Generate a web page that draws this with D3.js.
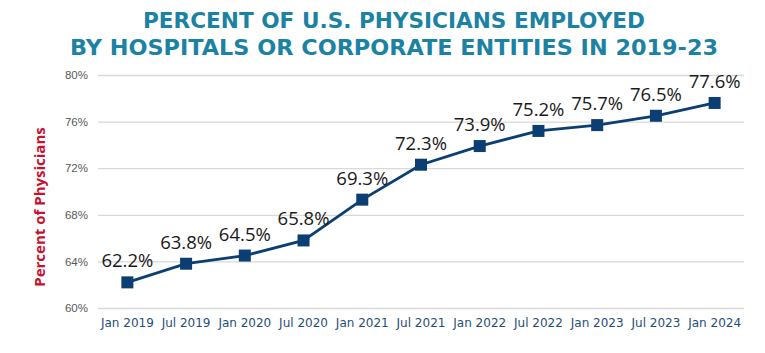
<!DOCTYPE html>
<html><head><meta charset="utf-8">
<script src="https://cdn.jsdelivr.net/npm/d3@7"></script>
<style>body{margin:0;background:#fff}svg{display:block}</style>
</head><body>
<svg id="c" width="765" height="353"></svg>
<script>
const categories = ["Jan 2019","Jul 2019","Jan 2020","Jul 2020","Jan 2021","Jul 2021","Jan 2022","Jul 2022","Jan 2023","Jul 2023","Jan 2024"];
const values = [62.2,63.8,64.5,65.8,69.3,72.3,73.9,75.2,75.7,76.5,77.6];
const yTicks = [60,64,68,72,76,80];
const titleLines = ["PERCENT OF U.S. PHYSICIANS EMPLOYED","BY HOSPITALS OR CORPORATE ENTITIES IN 2019-23"];
const yTitle = "Percent of Physicians";

const svg = d3.select("#c");
const m = {l:98, r:21, t:75, b:45};
const W = 765, H = 353;
const x = d3.scaleBand().domain(categories).range([m.l, W-m.r]);
const y = d3.scaleLinear().domain([60,80]).range([308,75]);

// title
svg.selectAll("text.title").data(titleLines).enter().append("text")
  .attr("class","title")
  .attr("x", 394).attr("y",(d,i)=>28+i*27)
  .attr("text-anchor","middle")
  .attr("font-family","DejaVu Sans").attr("font-weight","bold").attr("font-size",21.5)
  .attr("fill","#1b82a3")
  .attr("textLength",(d,i)=> i===0?502:648).attr("lengthAdjust","spacingAndGlyphs")
  .text(d=>d);

// grid
const yAxis = d3.axisLeft(y).tickValues(yTicks).tickSize(-(W-m.r-m.l)).tickFormat(d=>d+"%");
const gy = svg.append("g").attr("transform",`translate(${m.l},0)`).call(yAxis);
gy.select(".domain").remove();
gy.selectAll(".tick line").attr("stroke","#d9d9d9").attr("stroke-width",1.3);
gy.selectAll(".tick text").attr("x",-10).attr("fill","#595959")
  .attr("font-family","Liberation Sans, Arial").attr("font-size",11.5);

const xAxis = d3.axisBottom(x).tickSize(0);
const gx = svg.append("g").attr("transform",`translate(0,308)`).call(xAxis);
gx.select(".domain").remove();
gx.selectAll(".tick text").attr("dy","1.3em").attr("fill","#1f4e79")
  .attr("font-family","DejaVu Sans").attr("font-size",12);

// y title
svg.append("text").attr("transform","translate(45,207) rotate(-90)")
  .attr("text-anchor","middle").attr("font-family","Open Sans").attr("font-weight","bold")
  .attr("font-size",15).attr("fill","#c8102e").text(yTitle);

const cx = (d,i)=>x(categories[i])+x.bandwidth()/2;
const line = d3.line().x((d,i)=>cx(d,i)).y(d=>y(d));
svg.append("path").datum(values).attr("d",line).attr("fill","none")
  .attr("stroke","#0b3f73").attr("stroke-width",2.8);

svg.selectAll("rect.pt").data(values).enter().append("rect")
  .attr("x",(d,i)=>cx(d,i)-6).attr("y",d=>y(d)-6).attr("width",12).attr("height",12)
  .attr("fill","#0b3f73");

svg.selectAll("text.lbl").data(values).enter().append("text")
  .attr("x",(d,i)=>cx(d,i)).attr("y",d=>y(d)-15)
  .attr("text-anchor","middle").attr("font-family","Open Sans").attr("font-size",18.5)
  .attr("fill","#1a1a1a").text(d=>d.toFixed(1)+"%");
</script>
</body></html>
